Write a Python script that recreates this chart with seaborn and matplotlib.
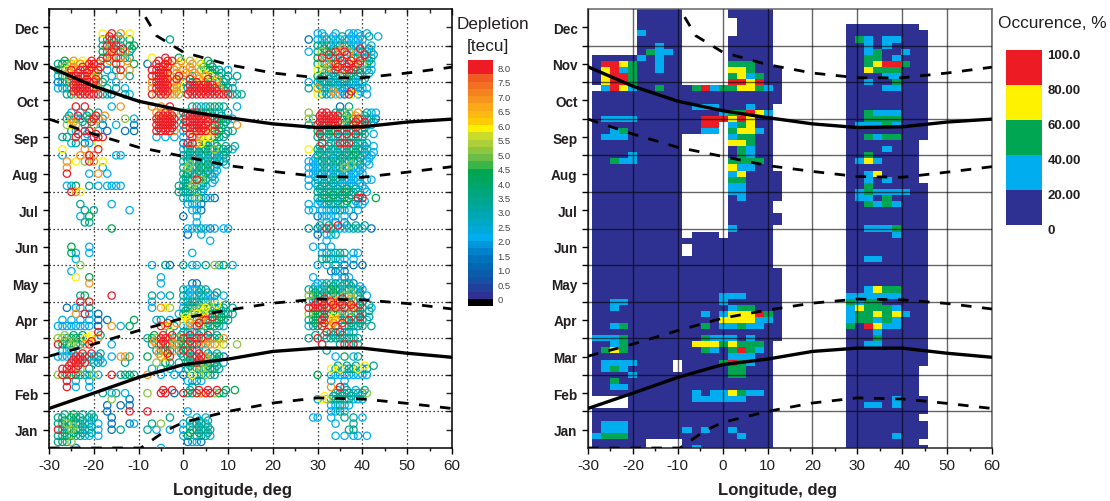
import matplotlib
matplotlib.use("Agg")
import matplotlib.pyplot as plt
from matplotlib.colors import ListedColormap, BoundaryNorm
from matplotlib.transforms import Affine2D
import numpy as np
import pandas as pd
import seaborn as sns

MONTHS = ["Jan", "Feb", "Mar", "Apr", "May", "Jun", "Jul", "Aug", "Sep", "Oct", "Nov", "Dec"]
LON_TICKS = [-30, -20, -10, 0, 10, 20, 30, 40, 50, 60]

# depletion colour scale, bottom (0) to top (8.0+)
DEPLETION_COLORS = ["#000000", "#2E3192", "#21409A", "#1450A3", "#0B5CAB", "#0067B3", "#0072BC", "#0082CA",
                    "#0096DB", "#00AEEF", "#00A9D8", "#00A8C6", "#00A7B5", "#00A6A2", "#00A690", "#00A67E",
                    "#00A66B", "#00A65D", "#00A651", "#39B54A", "#6CBD45", "#8DC63F", "#ADCF39", "#CBDB2A",
                    "#FFF200", "#FFCB05", "#FDB913", "#FBA919", "#F7941D", "#F58220", "#F36F21", "#F15A24",
                    "#ED1C24", "#ED1C24"]
DEPLETION_LABELS = ["0", "0.5", "1.0", "1.5", "2.0", "2.5", "3.0", "3.5", "4.0", "4.5", "5.0", "5.5", "6.0",
                    "6.5", "7.0", "7.5", "8.0"]
OCC_COLORS = ["#2E3192", "#00AEEF", "#00A651", "#FFF200", "#ED1C24"]
OCC_LABELS = ["0", "20.00", "40.00", "60.00", "80.00", "100.0"]

# code -> depletion, tecu
DEPLETION_CODE = {"1": 1.5, "2": 2.25, "3": 3.5, "4": 4.5, "5": 5.25, "6": 6.0, "7": 7.0, "8": 8.0}

# left panel: row (sixths of a month) -> "A|B|C" with one character per degree
# A starts at -28, B at -8, C at 28
SCATTER_ROWS = {
    68: "          6 8 7 6||  22  2  222 2",
    67: "          34843 4|     3|1 22322222222",
    66: "          38483 44||  33232332222 2",
    65: "          4387473||2 3543878522322",
    64: "          4878433| 6  8  4|  4833283 42222",
    63: "3445676887 3 87  4|1 8 87 6  7 5 4|  3524872878532",
    62: "4468788878 2 38 7 | 8887 7 7 7 54433 2|  6453878884232",
    61: "2458888764  2 7 3| 88877 87 37 7643 3 3|  4322335423",
    60: "13378888873  2| 78887763 48644633 2|2 33312313222",
    59: "2233888885 3 3 2| 7888776328888887433|3 723322122322",
    58: "  33788888331  32| 8788775 8888888888333|  6332721862 2",
    56: "    8 8     2 7| 7 7 8    33233433  2|       1 3",
    55: "   2 2 4 3|  77877 338834322 2|5  88 3435 7 322",
    54: "  3723 4872    5 2|  88888 3 8888884332|52 8888 54483321",
    53: "  567 2 5 1  2   1|  88888 3 88887843  7|3 8888853387832",
    52: "   32 88 2 1   1 1|  88887 2 7888784 33|  43344233333",
    51: " 33 8 2 888 |  2 2 2 2 87566433 |  33332333333",
    50: "   23 12 6|        18876433 |   8 338883322",
    49: " 6    7  8|        233334353332|6 333323333222",
    48: " 2   7 87    22|        3322323321|  3332233343222",
    47: "  7 6 587 6|        2333322323|222333333233 2",
    46: "  7       2|        35334332 |2222323353222",
    45: "  8    2 7 2|        34333222|22232222222 2",
    44: "|        333853 2|2 3223322222 22",
    43: "  224  3 2 2222|       3335332|2 233222222 2",
    42: "   876|       333332|  3333334332 2",
    41: "|        32353121|  33433333 88  4",
    40: "     3      2|         2221|2 2233324 322",
    39: "      3 3       2|          221|22 2221322 2",
    38: "     2 4|        1  2|  12222 2 1",
    37: "      33|           2|    2 1 1",
    36: "            4|         2223212 22|3 13842222332 1",
    35: "|         1  2|  1 223",
    34: "|              2|    2",
    33: "   4   2|| 2 2 2",
    32: "   42  2|          2|   232333 22",
    31: "    2||   333222 2",
    30: "     5| 2  31  3 22 3 524 2|  2 2 3 1 1 1",
    29: "   2||     1121",
    28: "    6  4|   2| 2    2 12",
    27: "       7|   2      11|  223232331",
    26: "|        322233|3322243223232",
    25: "     34     8| 3 2 3  32223221 2|5433423353 3 2",
    24: "     8 8| 2      23332322|32887878733 2",
    23: "  1 22 3| 2 765  2333564333 3|8888878787843 2",
    22: "    7 82 1|       2345643333333|5443435333 33",
    21: " 2 2 2 2 1 1     4|  23 2  66537834433|34383673383332",
    20: "22222222 1  7 2 4|   8763 2278534332|2348678 43333 3",
    19: "         8|     3  33223 3|    8338232",
    18: "55344366 7|345887358338833347|3 8 33333333",
    17: "84354378    2| 37884734488377765  5|   8   38383",
    16: " 223|  3443738433 2|    3",
    15: "2222883321  2 773|4  768  3328873341|      2 4 23",
    14: "   8888 232    3|  5 43 3 3483533 2|",
    13: " 88885 3| 2 2 2 2 33353433|     636333633",
    12: "5848433252  8 3343|7  2  2 1 633533|  4  222222222",
    11: "  8 2  2|         2232|     2  2",
    10: "  8 2  2|          3|     7 82",
    9: "          3 23 2|5  88 1 8348788543|      33332335",
    8: "            5   1||  26533333222",
    7: "           1  1 1||     22322",
    6: "           1    8|8        2|     2232",
    5: "33 433 33   1|     3     2 2| 22  2  3 3 2",
    4: "34533322 2  1   12| 3 5    2 2232|      2   3",
    3: "83353322 2  1 3|3 2  2  2 33323|         33",
    2: "33433322 2|        24 3332|      2 2 22 2",
    1: "3435|         1221|",
    0: "    1|   2|",
}
# further circles lying half a row and half a degree off the rows above
SCATTER_ROWS_BETWEEN = {
    67: "           8 3||   2 2 3 2 2 3 2",
    65: "           78 8 3||   4 2 7 3 8 3",
    64: "||    8 3 8 7 8 3",
    63: " 4 7 6 8 8 7   7|  8 88 7 5 6 4|   5 7 8 8 8 4",
    62: " 5 7 8 8 8|  888 7  7  4 3|    7 8 8 3",
    61: "  7 8 8 7|  888 7 7 7 6 4 3|   3 3 2 3 3 2",
    60: "  3 8 8 8 3|  888 8  8 7 8 7 3|  2 3 2 3 2 3",
    59: "   8888 3|  888 7  888888 3|  3 2 3 2 2",
    58: "   8888|  888 7  8888888 3|   2 7 2 8 2",
    54: "  3 8 3 8 7|  8888  88888 3 3|  88888 4 7 3",
    53: "   7 3 8|  8888  8888 8 3 3|  88888 3 8 8 3",
    52: "|  8888  88888 4 3|  3 4 3 3 3 3",
    51: "    8 2 8|         8 7 6 4 3|  8 3 8 8 8 3 2",
    49: "|         3 3 3 4 3 3|  3 3 2 3 3 3 2",
    48: "|         3 3 2 3 3|  3 2 3 3 4 3 2",
    47: "|         3 3 3 2 3| 2 3 3 3 2 3 2",
    46: "|         5 3 4 3 2| 2 3 2 3 5 3 2",
    45: "|         3 3 3 2| 2 2 2 2 2 2",
    44: "|        3 3 4 3| 2 2 3 3 2 2",
    43: "|        3 5 3 2| 2 3 3 2 2 2",
    42: "|        3 3 2|  3 3 3 4 3 2",
    41: "||   3 4 3 3 3",
    40: "||  2 3 3 4 2 2",
    36: "||  3 3 8 3 3 3",
    26: "|| 2 3 4 3 3 2",
    25: "|         2 3 2 3| 4 3 4 3 5 3",
    24: "|| 3 8 7 8 7 3",
    23: "|         3 3 5 6 3| 8 8 8 8 8 8 3",
    22: "|        3 5 6 4 3| 4 4 4 3 5 3 3",
    21: "|        6 5 7 8 4| 4 8 6 7 3 8 3",
    20: "|    8 7  7 8 3 4| 3 8 7 8 3 3",
    18: " 5 3 4 6 3| 4 8 8 3 8 3 8 3| 3 3 3 3",
    17: " 4 5 3 8| 7 8 7 4 8 7 7|",
    15: "   2 8 8 3|  7 8  3 8 8 3 3|",
    14: "   888 3 2|         4 8 5 3|",
    13: "  8 8|         3 5 4 3|      3 3 3 6 3",
    9: "|   8 8   3 8 8 8 4 4|      3 3 2 3",
    8: "||   6 3 3 3 2",
    5: " 3 4 3 3||",
    4: " 4 3 3 2|         3 3 3|",
    3: " 3 5 3 3|         3 3 3|",
    2: " 3 4 3 3|         4 3 3|",
}
LON_BLOCK_START = [-28, -8, 28]

# right panel, top row first, columns 2.025 deg wide from -29.2 deg
# . no data, 1: 0-20, 2: 20-40, 3: 40-60, 4: 60-80, 5: 80-100 %
OCC_ROWS = [
    "..... 11111 ..... 11111 . ....... ........ .",  # 72
    "..... 11111 ..... 11111 . ....... ........ .",
    "..... 11111 ..... .1111 . ....... ........ .",
    "..... 11111 ..... .1111 . ....... 11111111 .",
    "..... 21111 ..... .1111 . ....... 11111111 1",  # 68
    "..... 11111 ..... 11111 . ....... 13212211 1",
    "..... 11211 ..... 11111 . ....... 11212111 1",
    "..... 13221 ..... 11111 . ....... 11231121 1",
    "11111 21211 ..... 11111 . ....... 11331211 1",  # 64
    "15543 11211 ..... 33311 . ....... 11345531 1",
    "14523 11211 ..... 44311 1 ....... 11433311 1",
    "14553 11111 ..... 34231 1 ....... 11112211 1",
    "14553 11111 ..... 55451 1 ....... 11211311 1",  # 60
    ".2542 11311 13523 34432 1 ....... 11112211 1",
    "11111 11111 11111 11111 1 ....... 11111111 1",
    "11111 11111 11111 11111 1 ....... 11111111 1",
    "11111 11111 12221 11211 . ....... 11111111 1",  # 56
    "11111 11111 11112 33542 . ....... 11322211 1",
    "12222 11111 11555 45411 . ....... 11333311 1",
    "11111 11111 1155. 23411 . ....... 12223211 1",
    "11231 11111 1122. 34421 . ....... 11111111 1",  # 52
    "12221 11111 ..... 23311 . ....... 11323311 1",
    "11111 11111 ..... 44311 . ....... 11111111 .",
    "11111 11111 ..... 13211 . ....... 11112111 .",
    "11112 11111 ..... 13211 . ....... 11311111 .",  # 48
    "11322 11111 ..... 33331 . ....... 12421111 .",
    "11111 11111 ..... 42211 . ....... 11111111 .",
    "11111 11111 ..... 24111 1 ....... 11241111 .",
    "11111 11111 ..... 33111 1 ....... 11212111 .",  # 44
    "11111 11111 ..... 22111 1 ....... 11311111 1",
    "11111 11111 ..... 22111 1 ....... 12322221 1",
    "11111 11111 ..... 12111 1 ....... 12213111 1",
    "11111 11111 ..... 11111 . ....... 11323211 1",  # 40
    "11111 11111 ..... 11111 . ....... 11111111 1",
    "11111 11111 ..... 11111 1 ....... 11111111 1",
    "11111 11111 ..... 11111 1 ....... 11111111 1",
    "11111 11111 ..... 21111 . ....... 11222311 1",  # 36
    "11111 11111 .111. 11111 . ....... 11111211 1",
    "11111 11111 11111 11111 . ....... 11111111 1",
    "11111 11111 .1111 11111 . ....... 11111111 1",
    "11111 11111 .1111 11111 . ....... 11111111 1",  # 32
    "11111 11111 11111 11111 . ....... 11221111 1",
    "11111 11111 11111 11111 . ....... 11111111 1",
    "11111 11111 11111 11111 1 ....... 11111111 1",
    "11111 11111 11111 11111 1 ....... 11111111 1",  # 28
    "11111 11111 11111 11111 1 ....... 11111111 1",
    "11111 11111 11111 11111 1 ....... 11243311 1",
    "11111 11111 11112 22111 1 ....... 22222211 1",
    "11221 11111 11112 11111 1 ....... 32331111 1",  # 24
    "11211 11111 11111 23311 1 ....... 24333211 1",
    "11111 11111 11212 44453 1 ....... 23343421 1",
    "11111 11111 11114 44422 1 ....... 23323211 1",
    "11231 11111 11312 23221 1 ....... 31542211 1",  # 20
    "11111 11111 11111 11111 1 ....... 11121111 1",
    "22231 11111 11322 21211 1 ....... 11131111 1",
    "11231 11111 14443 43331 . ....... 11221111 1",
    "13431 11111 11321 35321 . ....... 11111111 1",  # 16
    "11111 11111 11111 22211 . ....... 11111111 1",
    "12222 1111. 11113 53211 . ....... 11111111 1",
    "12321 1111. 11111 33111 . ....... 11111111 .",
    "11112 11111 11111 33111 . ....... 11111111 .",  # 12
    "11311 11111 11111 11111 . ....... 11111111 .",
    "11221 11111 11111 11111 . ....... 11111111 .",
    "11111 11111 12122 43221 . ....... 11111111 .",
    "....1 11111 12222 22111 . ....... 11111211 1",  # 8
    "....1 11111 11111 11111 . ....... 11221211 1",
    "11111 11111 11111 11111 . ....... 11111111 1",
    "11111 11111 11111 11111 . ....... 11111111 .",
    "12221 11111 11111 11111 . ....... 11111111 1",  # 4
    "12221 11111 21211 21111 . ....... 11111111 1",
    "23331 11111 11111 12111 . ....... 11111211 1",
    "11111 1.... 11111 11111 . ....... 11111111 .",
    "11111 1.... 12111 11111 . ....... 11111111 1",  # 0
]

# curves (longitude, month position)
SOLID_LON_1 = [-30, -20, -10, 0, 10, 20, 30, 40, 50, 60]
SOLID_Y_1 = [10.42, 9.89, 9.48, 9.22, 9.03, 8.86, 8.76, 8.78, 8.91, 8.99]
SOLID_Y_2 = [1.08, 1.50, 1.93, 2.28, 2.43, 2.64, 2.73, 2.73, 2.59, 2.48]
DASH_LON_TOP = [-11, -6, 0, 10, 20, 30, 40, 50, 60]
DASH_Y_TOP = [12.3, 11.27, 10.82, 10.48, 10.25, 10.12, 10.12, 10.25, 10.41]
DASH_Y_AUG = [8.99, 8.58, 8.22, 7.97, 7.72, 7.56, 7.42, 7.40, 7.54, 7.69]
DASH_Y_APR = [2.51, 2.84, 3.21, 3.55, 3.77, 3.96, 4.07, 4.05, 3.95, 3.80]
DASH_LON_LOW = [-30, -9.5, -4, 0, 10, 20, 30, 40, 50, 60]
DASH_Y_LOW = [0.0, 0.0, 0.47, 0.70, 1.0, 1.23, 1.37, 1.34, 1.22, 1.08]

W, H = 1110, 502
sns.set_style("white")
plt.rcParams["font.family"] = ["Liberation Sans", "DejaVu Sans"]
plt.rcParams["text.color"] = "#231F20"
INK = "#231F20"

fig = plt.figure(figsize=(W / 100, H / 100), dpi=100)


def axes_px(x0, y0, x1, y1):
    return fig.add_axes([x0 / W, 1 - y1 / H, (x1 - x0) / W, (y1 - y0) / H])


def add_curves(ax):
    dash = (0, (3.8, 3.8))
    sets = [
        (SOLID_LON_1, SOLID_Y_1, "-", 2.4),
        (SOLID_LON_1, SOLID_Y_2, "-", 2.4),
        (DASH_LON_TOP, DASH_Y_TOP, dash, 2.0),
        (SOLID_LON_1, DASH_Y_AUG, dash, 2.0),
        (SOLID_LON_1, DASH_Y_APR, dash, 2.0),
        (DASH_LON_LOW, DASH_Y_LOW, dash, 2.0),
    ]
    for xs, ys, ls, lw in sets:
        sns.lineplot(x=xs, y=ys, ax=ax, color="black", linewidth=lw, linestyle=ls,
                     estimator=None, sort=False, legend=False, zorder=5)


def style_axes(ax):
    ax.set_xlim(-30, 60)
    ax.set_ylim(0, 12)
    ax.set_xticks(LON_TICKS)
    ax.set_xticklabels([str(v) for v in LON_TICKS], fontsize=11, color=INK)
    ax.set_xticks(np.arange(-25, 60, 10), minor=True)
    ax.set_yticks(np.arange(12) + 0.5)
    ax.set_yticklabels(MONTHS, fontsize=9.8, fontweight="bold", color=INK, rotation=0)
    ax.set_yticks(np.arange(1, 12), minor=True)
    ax.tick_params(axis="x", which="major", direction="out", length=4.5, width=1.0, pad=3, bottom=True, color="black")
    ax.tick_params(axis="x", which="minor", direction="out", length=2.5, width=1.0, bottom=True, color="black")
    ax.tick_params(axis="y", which="both", direction="out", length=4.5, width=1.0, pad=3, left=True, color="black")
    ax.set_xlabel("")
    ax.set_ylabel("")


# ---------- left panel
lon, mon, dep = [], [], []
for rows, shift in ((SCATTER_ROWS, 0.0), (SCATTER_ROWS_BETWEEN, 0.5)):
    for k, row in rows.items():
        for start, block in zip(LON_BLOCK_START, row.split("|")):
            for i, ch in enumerate(block):
                if ch != " ":
                    lon.append(start + i + shift)
                    mon.append((k + shift) / 6)
                    dep.append(DEPLETION_CODE[ch])
df = pd.DataFrame({"lon": lon, "mon": mon, "dep": dep}).sort_values("dep", kind="stable")

dep_cmap = ListedColormap(DEPLETION_COLORS)
ax1 = axes_px(49, 10, 452, 449)
sns.scatterplot(data=df, x="lon", y="mon", hue="dep", palette=dep_cmap, hue_norm=(-0.125, 8.375),
                s=28, linewidth=0.9, legend=False, ax=ax1, zorder=3, clip_on=True)
rings = ax1.collections[0]
ring_colors = rings.get_facecolors()
rings.set_edgecolors(ring_colors)
rings.set_facecolors("none")
add_curves(ax1)
style_axes(ax1)
ax1.set_axisbelow(True)
ax1.grid(True, axis="x", which="major", color="black", linestyle=(0, (1, 2.2)), linewidth=0.9)
ax1.grid(True, axis="y", which="minor", color="black", linestyle=(0, (1, 2.2)), linewidth=0.9)
for s in ax1.spines.values():
    s.set_visible(True)
    s.set_color("black")
    s.set_linewidth(1.1)
top1 = ax1.secondary_xaxis("top")
top1.set_xticks(LON_TICKS, labels=[])
top1.set_xticks(np.arange(-25, 60, 10), minor=True)
top1.tick_params(axis="x", which="major", direction="in", length=4, width=1.0)
top1.tick_params(axis="x", which="minor", direction="in", length=3, width=1.0)
top1.spines["top"].set_visible(False)
right1 = ax1.secondary_yaxis("right")
right1.set_yticks(np.arange(12) + 0.5, labels=[])
right1.set_yticks(np.arange(1, 12), minor=True)
right1.tick_params(axis="y", which="both", direction="in", length=4, width=1.0)
right1.spines["right"].set_visible(False)

# ---------- right panel
occ_rows = [r.replace(" ", "") for r in OCC_ROWS][::-1]
occ = np.array([[np.nan if c == "." else (int(c) - 1) * 20 + 10 for c in r] for r in occ_rows], dtype=float)
occ_cmap = ListedColormap(OCC_COLORS)
occ_norm = BoundaryNorm([0, 20, 40, 60, 80, 100], 5)
ax2 = axes_px(588, 10, 992, 449)
sns.heatmap(pd.DataFrame(occ), ax=ax2, cmap=occ_cmap, norm=occ_norm, cbar=False,
            xticklabels=False, yticklabels=False, linewidths=0)
mesh = ax2.collections[0]
mesh.set_transform(Affine2D().scale(2.025, 1 / 6).translate(-29.2, -0.5 / 6) + ax2.transData)
add_curves(ax2)
style_axes(ax2)
ax2.set_axisbelow(False)
grid_kw = dict(color="black", alpha=0.6, linestyle="-", linewidth=1.0)
ax2.grid(True, axis="x", which="major", **grid_kw)
ax2.grid(True, axis="y", which="minor", **grid_kw)
for name, s in ax2.spines.items():
    s.set_visible(True)
    s.set_linewidth(1.1)
    s.set_color("#666666" if name in ("top", "right") else "#222222")

# ---------- axis titles
fig.text(232.7 / W, 1 - 491 / H, "Longitude, deg", ha="center", va="center", fontsize=12, fontweight="bold")
fig.text(777.7 / W, 1 - 491 / H, "Longitude, deg", ha="center", va="center", fontsize=12, fontweight="bold")

# ---------- depletion colour bar
bar1 = axes_px(468, 61, 493.3, 307)
sns.heatmap(pd.DataFrame(np.arange(34)[:, None]), ax=bar1, cmap=dep_cmap, vmin=-0.5, vmax=33.5, cbar=False,
            xticklabels=False, yticklabels=False)
bar1.set_ylim(0, 34)
bar1.yaxis.tick_right()
bar1.set_yticks(np.arange(17) * 2 + 1)
bar1.set_yticklabels(DEPLETION_LABELS, fontsize=6.8, color="#444444", rotation=0)
bar1.tick_params(axis="y", length=0, pad=3)
bar1.set_xlabel("")
bar1.set_ylabel("")
fig.text(493 / W, 1 - 24 / H, "Depletion", ha="center", va="center", fontsize=12.3)
fig.text(488 / W, 1 - 46 / H, "[tecu]", ha="center", va="center", fontsize=12.3)

# ---------- occurrence colour bar
bar2 = axes_px(1006, 51, 1042, 230)
sns.heatmap(pd.DataFrame(np.arange(5)[:, None]), ax=bar2, cmap=occ_cmap, vmin=-0.5, vmax=4.5, cbar=False,
            xticklabels=False, yticklabels=False)
bar2.set_ylim(0, 5)
bar2.yaxis.tick_right()
bar2.set_yticks(np.arange(6) - 0.1)
bar2.set_yticklabels(OCC_LABELS, fontsize=9.5, fontweight="bold", color=INK, rotation=0)
bar2.tick_params(axis="y", length=0, pad=4)
bar2.set_xlabel("")
bar2.set_ylabel("")
fig.text(1052 / W, 1 - 24 / H, "Occurence, %", ha="center", va="center", fontsize=12.4)

fig.savefig("out.png", dpi=100)
